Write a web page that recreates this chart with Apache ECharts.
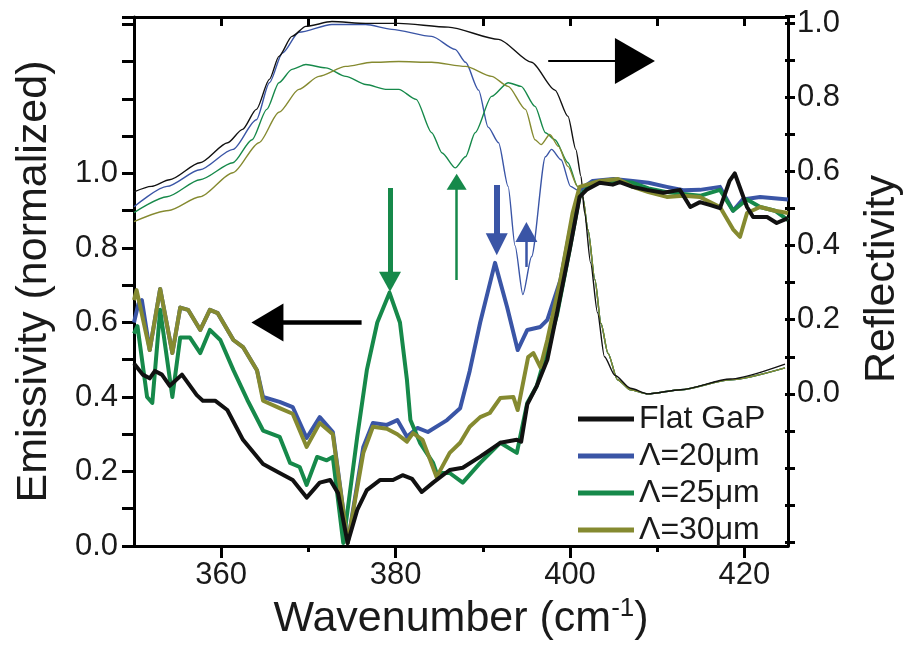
<!DOCTYPE html>
<html><head><meta charset="utf-8">
<script src="https://cdn.jsdelivr.net/npm/echarts@6/dist/echarts.min.js"></script>
<style>html,body{margin:0;padding:0;background:#fff}#c{width:912px;height:647px}</style>
</head><body><div id="c"></div>
<script>
// ---- data (wavenumber cm^-1, value) ----
const seriesNames = ['Flat GaP', '\u039B=20\u03BCm', '\u039B=25\u03BCm', '\u039B=30\u03BCm'];
const xTickLabels = [360, 380, 400, 420];
const xMinorTicks = [370, 390, 410];
const leftTickLabels = [0, 0.2, 0.4, 0.6, 0.8, 1.0];
const rightTickLabels = [0, 0.2, 0.4, 0.6, 0.8, 1.0];

const flatEmis = [[350.0,0.49],[351.0,0.46],[351.8,0.45],[352.4,0.47],[353.2,0.46],[354.1,0.43],[355.5,0.46],[357.2,0.405],[357.9,0.39],[359.3,0.39],[360.7,0.365],[362.5,0.285],[364.8,0.22],[366.7,0.196],[368.2,0.177],[369.8,0.13],[371.3,0.17],[372.5,0.177],[373.4,0.142],[374.5,0.008],[375.6,0.097],[376.7,0.15],[378.2,0.177],[379.7,0.177],[380.8,0.19],[381.9,0.18],[383.0,0.145],[384.3,0.17],[386.2,0.204],[387.7,0.21],[389.7,0.24],[392.0,0.277],[393.9,0.285],[394.4,0.28],[395.1,0.38],[396.2,0.43],[397.4,0.5],[398.5,0.625],[400.0,0.80],[401.1,0.937],[401.9,0.956],[403.4,0.975],[404.9,0.97],[405.7,0.977],[407.2,0.964],[408.8,0.956],[410.7,0.948],[412.6,0.956],[413.8,0.91],[414.9,0.923],[416.1,0.915],[417.2,0.907],[418.3,0.98],[418.9,1.0],[420.3,0.91],[421.0,0.883],[422.6,0.883],[423.7,0.867],[425.0,0.88]];
const l20Emis = [[350.0,0.60],[350.5,0.65],[350.9,0.66],[351.8,0.526],[353.0,0.69],[354.4,0.518],[355.3,0.64],[356.2,0.634],[357.6,0.58],[358.7,0.634],[359.6,0.625],[361.4,0.553],[362.5,0.534],[364.1,0.472],[364.8,0.40],[366.7,0.387],[368.2,0.373],[369.8,0.29],[371.3,0.346],[372.8,0.306],[374.5,0.008],[376.3,0.266],[377.4,0.33],[379.0,0.325],[380.2,0.338],[381.3,0.293],[382.5,0.317],[383.7,0.306],[385.9,0.338],[387.4,0.37],[388.5,0.47],[389.7,0.60],[391.4,0.76],[392.8,0.64],[394.0,0.526],[395.1,0.58],[396.6,0.588],[397.4,0.607],[398.9,0.714],[400.0,0.848],[401.1,0.956],[402.6,0.98],[405.0,0.985],[407.2,0.98],[409.0,0.975],[411.1,0.964],[413.0,0.955],[414.9,0.956],[417.2,0.964],[418.7,0.90],[419.8,0.93],[421.8,0.937],[425.0,0.93]];
const l25Emis = [[350.0,0.57],[350.4,0.59],[351.5,0.40],[352.1,0.384],[353.0,0.634],[354.4,0.40],[355.3,0.56],[356.4,0.56],[357.6,0.518],[358.7,0.58],[359.9,0.553],[361.4,0.472],[363.0,0.392],[364.8,0.31],[366.7,0.293],[367.9,0.223],[369.0,0.212],[369.8,0.164],[371.0,0.239],[372.1,0.23],[372.8,0.239],[374.0,0.008],[375.6,0.293],[376.7,0.472],[377.9,0.60],[379.3,0.68],[380.5,0.60],[381.3,0.446],[381.7,0.338],[382.8,0.277],[384.3,0.223],[384.7,0.196],[386.2,0.196],[387.7,0.17],[389.7,0.223],[392.0,0.277],[393.9,0.25],[395.1,0.384],[396.2,0.43],[398.5,0.62],[400.0,0.80],[401.1,0.94],[402.6,0.975],[405.0,0.98],[407.2,0.975],[409.0,0.96],[411.1,0.95],[413.0,0.945],[414.9,0.94],[417.2,0.956],[418.7,0.90],[420.3,0.93],[421.8,0.91],[423.5,0.9],[425.0,0.875]];
const l30Emis = [[350.0,0.66],[350.3,0.687],[351.8,0.526],[353.0,0.69],[354.4,0.518],[355.3,0.64],[356.2,0.634],[357.6,0.58],[358.7,0.634],[359.6,0.625],[361.4,0.553],[362.5,0.534],[364.1,0.472],[364.8,0.39],[366.7,0.37],[368.2,0.355],[369.8,0.266],[371.3,0.33],[372.8,0.30],[374.5,0.008],[376.3,0.25],[377.4,0.32],[379.0,0.315],[380.2,0.30],[381.3,0.28],[382.0,0.303],[383.1,0.285],[384.7,0.185],[386.2,0.25],[387.4,0.277],[388.5,0.32],[389.7,0.346],[390.8,0.357],[392.0,0.397],[393.5,0.40],[394.0,0.365],[395.2,0.507],[395.8,0.518],[396.6,0.48],[397.4,0.553],[398.9,0.714],[400.3,0.894],[401.1,0.964],[403.4,0.98],[405.5,0.985],[407.2,0.964],[409.0,0.95],[411.1,0.937],[413.0,0.94],[414.9,0.937],[417.2,0.91],[418.7,0.85],[419.5,0.83],[420.3,0.894],[421.8,0.91],[423.5,0.9],[425.0,0.894]];

const flatRefl = [[350.0,0.545],[352.0,0.56],[354.1,0.578],[357.6,0.624],[360.8,0.678],[362.5,0.714],[364.1,0.768],[365.6,0.849],[366.7,0.911],[368.2,0.965],[369.8,0.992],[372.8,1.005],[376.7,1.0],[380.5,1.0],[386.2,0.99],[392.0,0.957],[395.8,0.895],[398.5,0.82],[400.0,0.749],[400.9,0.66],[401.5,0.587],[401.9,0.49],[402.6,0.354],[403.4,0.219],[404.2,0.10],[405.4,0.05],[407.2,0.015],[409.2,0.0],[413.0,0.011],[418.7,0.04],[425.0,0.08]];
const l20Refl = [[350.0,0.505],[353.8,0.56],[357.6,0.605],[361.4,0.66],[364.1,0.74],[365.6,0.84],[367.1,0.92],[369.0,0.976],[372.8,0.997],[376.7,0.997],[379.7,0.984],[384.3,0.965],[387.0,0.93],[388.2,0.895],[389.7,0.82],[390.8,0.72],[392.0,0.678],[393.1,0.56],[393.9,0.40],[394.8,0.268],[395.8,0.37],[397.4,0.64],[398.1,0.66],[399.2,0.632],[400.3,0.56],[401.1,0.55],[401.7,0.53],[402.3,0.443],[403.1,0.308],[403.8,0.19],[404.6,0.11],[405.7,0.038],[407.2,0.011],[409.2,0.0],[413.0,0.011],[418.7,0.038],[425.0,0.07]];
const l25Refl = [[350.0,0.489],[353.8,0.532],[357.6,0.578],[361.4,0.624],[363.6,0.686],[365.3,0.768],[366.7,0.84],[368.2,0.876],[369.8,0.889],[372.1,0.88],[374.4,0.857],[376.7,0.835],[379.0,0.822],[380.5,0.822],[382.5,0.795],[384.3,0.705],[385.5,0.65],[387.0,0.61],[388.2,0.64],[389.3,0.705],[391.2,0.803],[393.1,0.84],[394.6,0.83],[396.2,0.776],[397.4,0.705],[398.5,0.686],[400.0,0.624],[401.1,0.56],[401.7,0.53],[402.3,0.443],[403.1,0.308],[403.8,0.19],[404.6,0.11],[405.7,0.038],[407.2,0.011],[409.2,0.0],[413.0,0.011],[418.7,0.038],[425.0,0.07]];
const l30Refl = [[350.0,0.465],[354.0,0.495],[357.6,0.532],[361.4,0.597],[364.4,0.678],[366.7,0.76],[369.0,0.822],[371.3,0.857],[374.4,0.884],[377.4,0.895],[380.5,0.897],[384.3,0.895],[388.2,0.884],[391.2,0.857],[393.1,0.83],[395.1,0.768],[396.2,0.686],[396.9,0.673],[397.9,0.70],[398.9,0.668],[400.0,0.614],[401.1,0.56],[401.7,0.53],[402.3,0.443],[403.1,0.308],[403.8,0.19],[404.6,0.11],[405.7,0.038],[407.2,0.011],[409.2,0.0],[413.0,0.011],[418.7,0.038],[425.0,0.07]];

// annotation arrows in data units (wavenumber, emissivity): [tail, head centre]
const arrowEmisLeft = [[376.1, 0.60], [365.3, 0.60]];
const arrowReflRight = [[397.5, 1.302], [407.45, 1.302]];
const arrowGreenDown = [[379.36, 0.961], [379.36, 0.709]];
const arrowGreenUp = [[387.0, 0.714], [387.0, 0.978]];
const arrowBlueDown = [[391.6, 0.969], [391.6, 0.81]];
const arrowBlueUp = [[395.0, 0.749], [395.0, 0.843]];

// ---- style ----
const COLORS = ['#111111', '#3a55a6', '#16894a', '#858a30'];
const FONT = 'Liberation Sans, Arial, sans-serif';
const TXT = '#1a1a1a';

const chart = echarts.init(document.getElementById('c'), null, {renderer: 'canvas'});

function arrow(pts, color, width, head) {
  return [
    {coord: pts[0], symbol: 'none', lineStyle: {color: color, width: width, type: 'solid'}},
    {coord: pts[1], symbol: 'triangle', symbolSize: head}
  ];
}

const gridL = {left: 134, right: 124, top: 17, bottom: 101};
const gridR = {left: 134, right: 124, top: 16, bottom: 105};

const emisSeries = [flatEmis, l20Emis, l25Emis, l30Emis];
const reflSeries = [flatRefl, l20Refl, l25Refl, l30Refl];
const drawOrder = [1, 2, 3, 0];

const series = [];
drawOrder.forEach(i => {
  series.push({
    name: seriesNames[i] + ' R', type: 'line', xAxisIndex: 3, yAxisIndex: 1,
    data: reflSeries[i], showSymbol: false, smooth: 0.25, smoothMonotone: 'x',
    lineStyle: {color: COLORS[i], width: 1.4}, itemStyle: {color: COLORS[i]},
    silent: true, z: 2
  });
});
drawOrder.forEach(i => {
  series.push({
    name: seriesNames[i], type: 'line', xAxisIndex: 0, yAxisIndex: 0,
    data: emisSeries[i], showSymbol: false,
    lineStyle: {color: COLORS[i], width: 4, join: 'round'}, itemStyle: {color: COLORS[i]},
    silent: true, z: 3
  });
});
series[series.length - 1].markLine = {
  silent: true, animation: false, label: {show: false}, symbol: ['none', 'triangle'],
  emphasis: {disabled: true},
  data: [
    arrow(arrowEmisLeft, '#000', 4.5, [38, 32]),
    arrow(arrowReflRight, '#000', 1.8, [46, 40]),
    arrow(arrowGreenDown, COLORS[2], 5, [22, 20]),
    arrow(arrowGreenUp, COLORS[2], 2.5, [20, 16]),
    arrow(arrowBlueDown, COLORS[1], 6, [22, 22]),
    arrow(arrowBlueUp, COLORS[1], 2.5, [22, 20])
  ]
};

const axLine = {show: true, lineStyle: {color: '#000', width: 3}};
const labelStyle = {color: TXT, fontFamily: FONT, fontSize: 31};

const option = {
  animation: false,
  backgroundColor: '#fff',
  grid: [gridL, gridR],
  legend: {
    data: seriesNames, orient: 'vertical', left: 573, top: 398,
    itemWidth: 56, itemHeight: 5, itemGap: 5, icon: 'rect',
    textStyle: {color: TXT, fontFamily: FONT, fontSize: 32, lineHeight: 30},
    selectedMode: false
  },
  xAxis: [
    {gridIndex: 0, type: 'value', position: 'bottom', min: 350, max: 425, interval: 10,
     axisLine: axLine, splitLine: {show: false},
     axisTick: {show: true, length: 12, lineStyle: {width: 3, color: '#000'}, customValues: xTickLabels},
     axisLabel: {...labelStyle, margin: 14, customValues: xTickLabels, formatter: v => String(v)},
     name: '{a|Wavenumber (cm}{s|-1}{a|)}', nameLocation: 'middle', nameGap: 41,
     nameTextStyle: {rich: {
       a: {fontFamily: FONT, fontSize: 43, color: TXT},
       s: {fontFamily: FONT, fontSize: 26, color: TXT, verticalAlign: 'top', padding: [0, 0, 20, 0]}
     }}},
    {gridIndex: 0, type: 'value', position: 'bottom', min: 350, max: 425, interval: 10,
     axisLine: {show: false}, splitLine: {show: false},
     axisTick: {show: true, length: 6, lineStyle: {width: 3, color: '#000'}, customValues: xMinorTicks},
     axisLabel: {show: false}},
    {gridIndex: 0, type: 'value', position: 'top', min: 350, max: 425, interval: 10,
     axisLine: axLine, splitLine: {show: false},
     axisTick: {show: true, inside: true, length: 9, lineStyle: {width: 3, color: '#000'}},
     axisLabel: {show: false}},
    {gridIndex: 1, type: 'value', min: 350, max: 425, show: false}
  ],
  yAxis: [
    {gridIndex: 0, type: 'value', position: 'left', min: 0, max: 1.42, interval: 0.1,
     axisLine: axLine, splitLine: {show: false},
     axisTick: {show: true, length: 12, lineStyle: {width: 3, color: '#000'}},
     axisLabel: {...labelStyle, margin: 16, customValues: leftTickLabels, formatter: v => v.toFixed(1)},
     name: 'Emissivity (normalized)', nameLocation: 'middle', nameGap: 78, nameRotate: 90,
     nameTextStyle: {fontFamily: FONT, fontSize: 43, color: TXT}},
    {gridIndex: 1, type: 'value', position: 'right', min: -0.4, max: 1.02, interval: 0.1,
     axisLine: {show: false}, splitLine: {show: false},
     axisTick: {show: true, length: 10, lineStyle: {width: 3, color: '#000'}},
     axisLabel: {...labelStyle, margin: 12, customValues: rightTickLabels, formatter: v => v.toFixed(1)},
     name: 'Reflectivity', nameLocation: 'middle', nameGap: 76, nameRotate: 90,
     nameTextStyle: {fontFamily: FONT, fontSize: 43, color: TXT}},
    {gridIndex: 0, type: 'value', position: 'right', min: 0, max: 1.42,
     axisLine: axLine, axisTick: {show: false}, axisLabel: {show: false}, splitLine: {show: false}}
  ],
  series: series
};
chart.setOption(option);
</script></body></html>
